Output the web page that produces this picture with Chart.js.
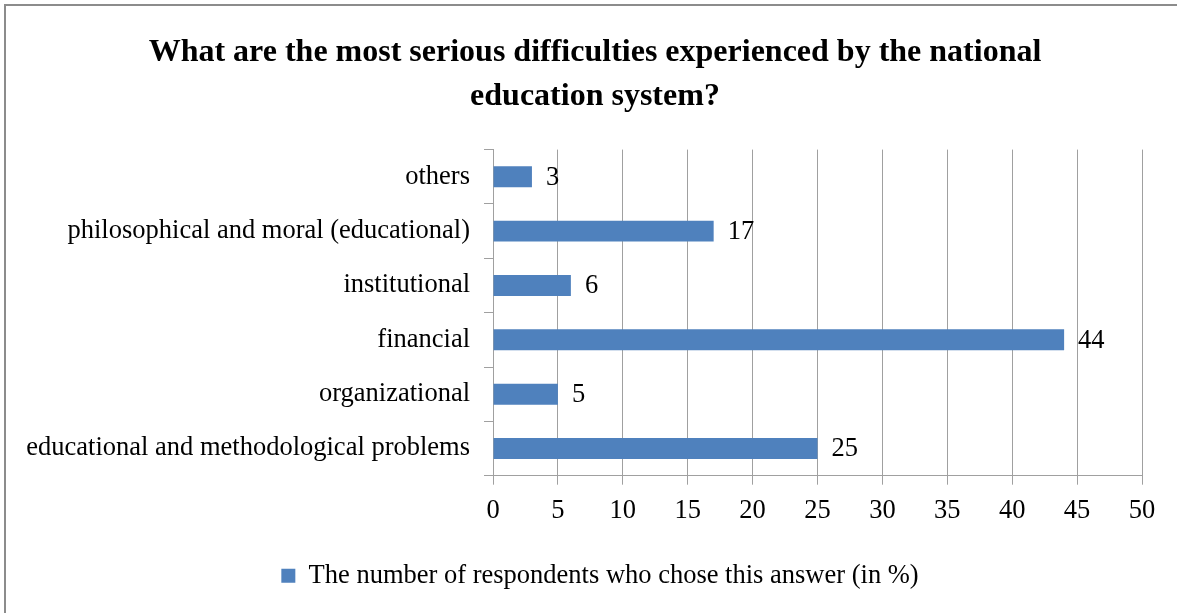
<!DOCTYPE html>
<html>
<head>
<meta charset="utf-8">
<script src="https://cdn.jsdelivr.net/npm/chart.js@4/dist/chart.umd.min.js"></script>
<style>
  html, body { margin: 0; padding: 0; background: #fff; overflow: hidden; }
  #frame {
    position: absolute; left: 4px; top: 4px; width: 1300px; height: 700px;
    border-left: 2px solid #8c8c8c; border-top: 2px solid #8c8c8c;
  }
  #wrap { position: absolute; left: 0; top: 0; width: 1177px; height: 613px; }
</style>
</head>
<body>
<div id="frame"></div>
<div id="wrap"><canvas id="difficulties-bar-chart" width="1177" height="613"></canvas></div>
<script>
// Answers, listed top to bottom as they appear on the chart
var categories = [
  'others',
  'philosophical and moral (educational)',
  'institutional',
  'financial',
  'organizational',
  'educational and methodological problems'
];
var respondents = [3, 17, 6, 44, 5, 25];
var seriesName = 'The number of respondents who chose this answer (in %)';
var titleLines = [
  'What are the most serious difficulties experienced by the national',
  'education system?'
];
var axisMin = 0, axisMax = 50, axisStep = 5;

var barColor = '#4f81bd';
var gridColor = '#a0a0a0';
var serif = "'Liberation Serif', 'Times New Roman', serif";

Chart.defaults.font.family = serif;
Chart.defaults.color = '#000';

// Prints each value just to the right of its bar
var valueLabels = {
  id: 'valueLabels',
  afterDatasetsDraw: function(chart) {
    var ctx = chart.ctx;
    var meta = chart.getDatasetMeta(0);
    ctx.save();
    ctx.font = '26.5px ' + serif;
    ctx.fillStyle = '#000';
    ctx.textAlign = 'left';
    ctx.textBaseline = 'middle';
    meta.data.forEach(function(bar, i) {
      ctx.fillText(chart.data.datasets[0].data[i], bar.x + 14, bar.y + 1);
    });
    ctx.restore();
  }
};

// The long category names need the left side, so the title and legend
// are re-centred on the outer frame instead of the padded layout box
var centreOnFrame = {
  id: 'centreOnFrame',
  afterLayout: function(chart) {
    chart.titleBlock.left += 43;
    chart.legend.left += 53;
  }
};

new Chart(document.getElementById('difficulties-bar-chart'), {
  type: 'bar',
  data: {
    labels: categories,
    datasets: [
      {
        label: seriesName,
        backgroundColor: barColor,
        borderWidth: 0,
        data: respondents,
        categoryPercentage: 1,
        barPercentage: 0.385
      }
    ]
  },
  options: {
    indexAxis: 'y',
    responsive: false,
    animation: false,
    layout: { padding: { left: 5, right: 35, top: 5, bottom: 14 } },
    plugins: {
      title: {
        display: true,
        text: titleLines,
        color: '#000',
        font: { size: 32, weight: 'bold', lineHeight: 1.4 },
        padding: { top: 25, bottom: 30 }
      },
      legend: {
        position: 'bottom',
        labels: {
          boxWidth: 14,
          boxHeight: 14,
          padding: 10,
          color: '#000',
          font: { size: 26.5 }
        }
      },
      tooltip: { enabled: false }
    },
    scales: {
      x: {
        min: axisMin,
        max: axisMax,
        ticks: { stepSize: axisStep, padding: 10, font: { size: 26.5 }, color: '#000' },
        grid: { color: gridColor, tickLength: 9, tickColor: gridColor },
        border: { color: gridColor },
        afterFit: function(scale) { scale.height += 16; }
      },
      y: {
        ticks: { padding: 14, font: { size: 26.5 }, color: '#000' },
        grid: { drawOnChartArea: false, tickLength: 9, tickColor: gridColor },
        border: { color: gridColor },
        afterFit: function(scale) { scale.width = 488; }
      }
    }
  },
  plugins: [valueLabels, centreOnFrame]
});
</script>
</body>
</html>
